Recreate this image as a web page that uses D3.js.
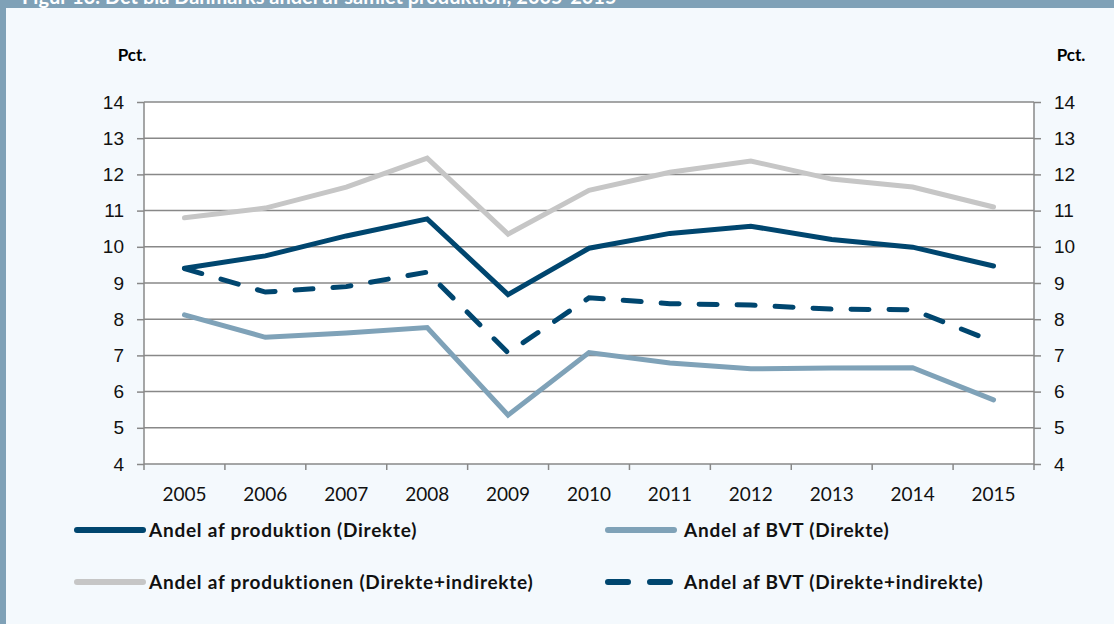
<!DOCTYPE html>
<html>
<head>
<meta charset="utf-8">
<script src="https://cdn.jsdelivr.net/npm/d3@7"></script>
<style>
  body { margin: 0; background: #f4f9fd; }
  svg { display: block; font-family: Lato, "Open Sans", sans-serif; }
  .tick text { font-size: 19px; fill: #111; }
</style>
</head>
<body>
<div id="chart"></div>
<script>
// data
var years = ["2005", "2006", "2007", "2008", "2009", "2010", "2011", "2012", "2013", "2014", "2015"];
var prodDirekte = [9.41, 9.75, 10.3, 10.77, 8.68, 9.96, 10.37, 10.57, 10.2, 9.99, 9.47];
var bvtDirekte = [8.12, 7.5, 7.62, 7.77, 5.35, 7.08, 6.79, 6.63, 6.65, 6.66, 5.77];
var prodTotal = [10.8, 11.07, 11.65, 12.45, 10.35, 11.56, 12.06, 12.37, 11.87, 11.65, 11.1];
var bvtTotal = [9.4, 8.75, 8.9, 9.3, 7.07, 8.59, 8.43, 8.39, 8.28, 8.26, 7.38];
var yTicks = [4, 5, 6, 7, 8, 9, 10, 11, 12, 13, 14];

var series = [
  { name: "Andel af produktion (Direkte)", values: prodDirekte, color: "#00466f", dash: null },
  { name: "Andel af BVT (Direkte)", values: bvtDirekte, color: "#7fa2b8", dash: null },
  { name: "Andel af produktionen (Direkte+indirekte)", values: prodTotal, color: "#c6c6c6", dash: null },
  { name: "Andel af BVT (Direkte+indirekte)", values: bvtTotal, color: "#00466f", dash: "18,20" }
];

var width = 1114, height = 624;
var margin = { top: 102, right: 80, bottom: 160, left: 144 };

var svg = d3.select("#chart").append("svg")
  .attr("width", width)
  .attr("height", height);

// frame: title bar and left border
svg.append("rect").attr("x", 0).attr("y", 0).attr("width", width).attr("height", 8).attr("fill", "#7fa1b7");
svg.append("rect").attr("x", 0).attr("y", 0).attr("width", 6).attr("height", height).attr("fill", "#7fa1b7");
svg.append("text")
  .attr("x", 22).attr("y", 4)
  .attr("fill", "#fff")
  .style("font-weight", "bold")
  .style("font-size", "20px")
  .text("Figur 13. Det blå Danmarks andel af samlet produktion, 2005-2015");

var x = d3.scaleBand()
  .domain(years)
  .range([margin.left, width - margin.right]);

var y = d3.scaleLinear()
  .domain([4, 14])
  .range([height - margin.bottom, margin.top]);

// plot area
svg.append("rect")
  .attr("x", x.range()[0]).attr("y", y(14))
  .attr("width", x.range()[1] - x.range()[0])
  .attr("height", y(4) - y(14))
  .attr("fill", "#fff");

// gridlines
svg.append("g")
  .selectAll("line")
  .data(yTicks)
  .join("line")
  .attr("x1", x.range()[0]).attr("x2", x.range()[1])
  .attr("y1", d => y(d)).attr("y2", d => y(d))
  .attr("stroke", "#888").attr("stroke-width", 1.5);

var yLeft = d3.axisLeft(y).tickValues(yTicks).tickSize(7).tickPadding(13);
var yRight = d3.axisRight(y).tickValues(yTicks).tickSize(7).tickPadding(13);

svg.append("g")
  .attr("transform", `translate(${x.range()[0]},0)`)
  .call(yLeft)
  .call(g => g.select(".domain").remove());

svg.append("g")
  .attr("transform", `translate(${x.range()[1]},0)`)
  .call(yRight)
  .call(g => g.select(".domain").remove());

svg.selectAll(".tick line").attr("stroke", "#888").attr("stroke-width", 1.5);

// vertical axis lines
[x.range()[0], x.range()[1]].forEach(function (px) {
  svg.append("line")
    .attr("x1", px).attr("x2", px)
    .attr("y1", y(14)).attr("y2", y(4))
    .attr("stroke", "#888").attr("stroke-width", 1.5);
});

// x axis: ticks at category boundaries
var bounds = years.map(d => x(d)).concat([x.range()[1]]);
svg.append("g")
  .selectAll("line")
  .data(bounds)
  .join("line")
  .attr("x1", d => d).attr("x2", d => d)
  .attr("y1", y(4)).attr("y2", y(4) + 6)
  .attr("stroke", "#888").attr("stroke-width", 1.5);

svg.append("g")
  .selectAll("text")
  .data(years)
  .join("text")
  .attr("x", d => x(d) + x.bandwidth() / 2)
  .attr("y", y(4) + 37)
  .attr("text-anchor", "middle")
  .style("font-size", "19px")
  .attr("fill", "#111")
  .text(d => d);

// unit labels
svg.append("text").attr("x", 132).attr("y", 61).attr("text-anchor", "middle")
  .style("font-size", "17px").style("font-weight", "bold").text("Pct.");
svg.append("text").attr("x", 1071).attr("y", 61).attr("text-anchor", "middle")
  .style("font-size", "17px").style("font-weight", "bold").text("Pct.");

// lines
var line = d3.line()
  .x((d, i) => x(years[i]) + x.bandwidth() / 2)
  .y(d => y(d));

var drawOrder = [series[2], series[1], series[3], series[0]];
svg.append("g")
  .selectAll("path")
  .data(drawOrder)
  .join("path")
  .attr("d", d => line(d.values))
  .attr("fill", "none")
  .attr("stroke", d => d.color)
  .attr("stroke-width", 5)
  .attr("stroke-linecap", "round")
  .attr("stroke-linejoin", "miter")
  .attr("stroke-dasharray", d => d.dash);

// legend
var legendPos = [[77, 530], [608, 530], [77, 582], [608, 582]];
var legend = svg.append("g")
  .selectAll("g")
  .data(series)
  .join("g")
  .attr("transform", (d, i) => `translate(${legendPos[i][0]},${legendPos[i][1]})`);

legend.append("line")
  .attr("x1", 0).attr("x2", d => d.dash ? 63 : 66)
  .attr("y1", 0).attr("y2", 0)
  .attr("stroke", d => d.color)
  .attr("stroke-width", 6)
  .attr("stroke-linecap", "round")
  .attr("stroke-dasharray", d => d.dash ? "20,22" : null);

legend.append("text")
  .attr("x", (d, i) => i % 2 ? 76 : 72)
  .attr("y", 7)
  .style("font-size", "19px")
  .style("font-weight", "bold")
  .style("letter-spacing", "0.75px")
  .attr("fill", "#111")
  .text(d => d.name);
</script>
</body>
</html>
